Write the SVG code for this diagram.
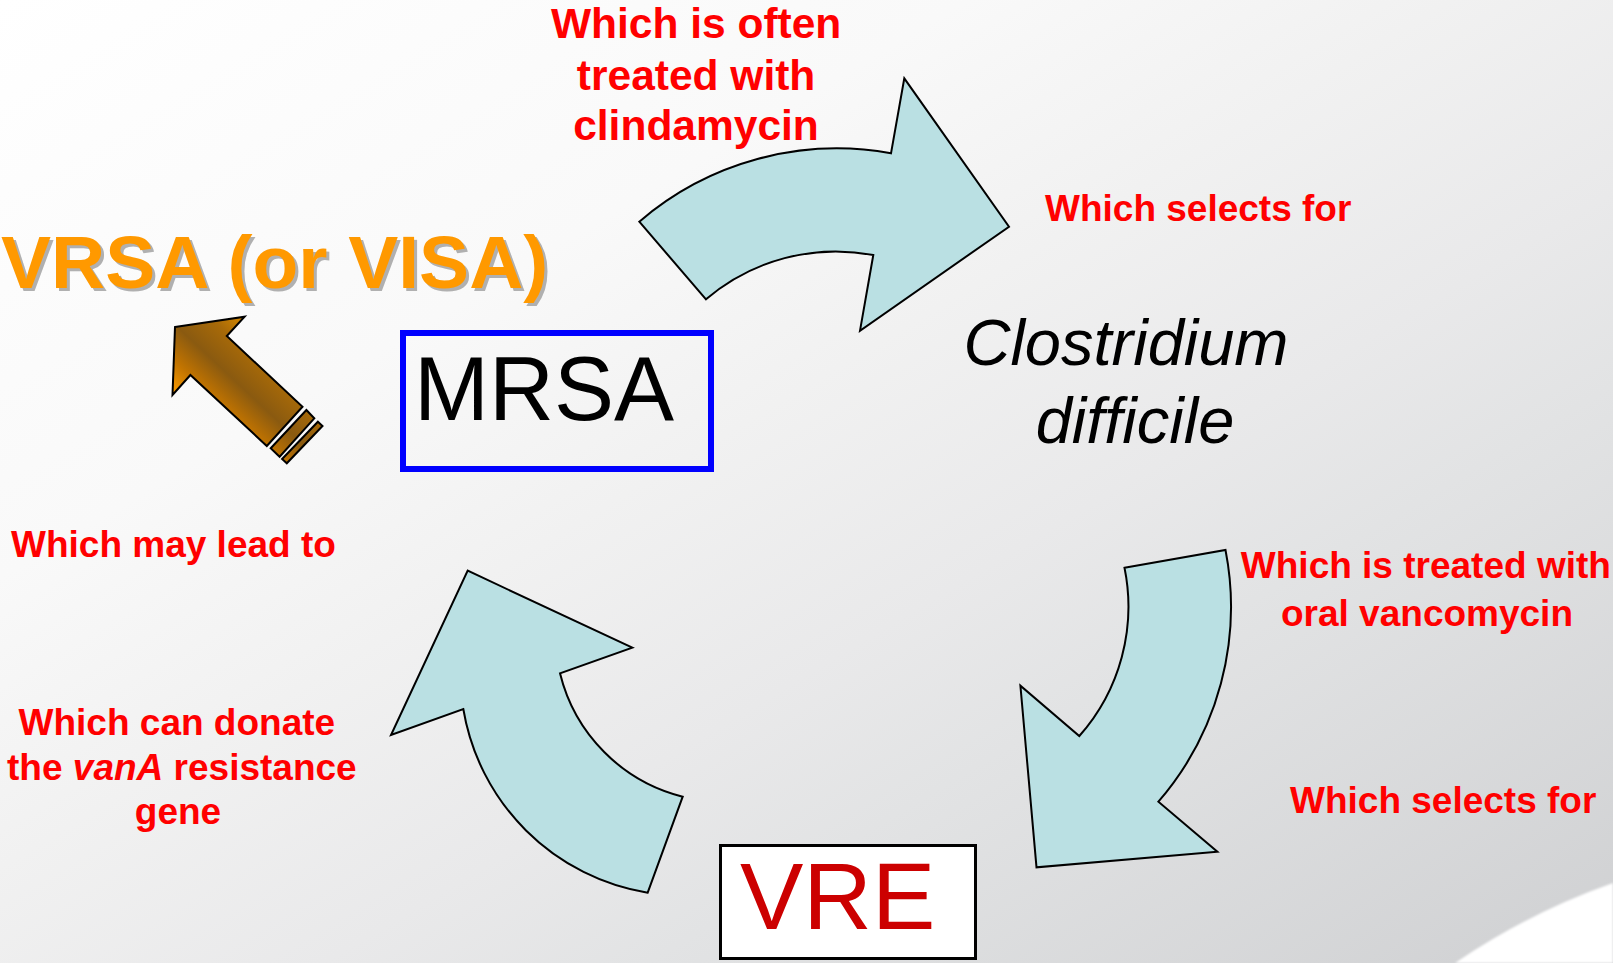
<svg xmlns="http://www.w3.org/2000/svg" width="1613" height="963" viewBox="0 0 1613 963">
  <defs>
    <linearGradient id="bg" gradientUnits="userSpaceOnUse" x1="0" y1="0" x2="848" y2="1420">
      <stop offset="0" stop-color="#ffffff"/>
      <stop offset="0.3" stop-color="#f9f9f9"/>
      <stop offset="0.45" stop-color="#f1f1f1"/>
      <stop offset="0.6" stop-color="#e9e9ea"/>
      <stop offset="0.7" stop-color="#e2e3e4"/>
      <stop offset="1" stop-color="#cfd0d2"/>
    </linearGradient>
    <linearGradient id="bronze" gradientUnits="userSpaceOnUse" x1="172" y1="395" x2="245" y2="317">
      <stop offset="0" stop-color="#ff9e00"/>
      <stop offset="0.25" stop-color="#c27400"/>
      <stop offset="0.5" stop-color="#8a5a10"/>
      <stop offset="0.78" stop-color="#a86a08"/>
      <stop offset="1" stop-color="#d88a00"/>
    </linearGradient>
    <filter id="soft" x="-5%" y="-5%" width="110%" height="110%">
      <feGaussianBlur stdDeviation="1.2"/>
    </filter>
  </defs>
  <style>
    .flow { fill: #bae0e3; stroke: #000; stroke-width: 2; stroke-linejoin: miter; }
    .bronze { fill: url(#bronze); stroke: #000; stroke-width: 2; stroke-linejoin: miter; }
    .note { font-family: "Liberation Sans", Arial, sans-serif; font-weight: bold; font-size: 37px; fill: #ff0000; }
    .note-lg { font-size: 42.5px; }
    .species { font-family: "Liberation Sans", Arial, sans-serif; font-style: italic; font-size: 65px; fill: #000; }
    .big { font-family: "Liberation Sans", Arial, sans-serif; }
  </style>

  <!-- slide background -->
  <rect x="0" y="0" width="1613" height="963" fill="url(#bg)"/>
  <path d="M1455 963 Q1530 912 1613 883 L1613 963 Z" fill="#ffffff" filter="url(#soft)"/>

  <!-- connectors: curved cycle arrows and the escape arrow -->
  <g id="connectors">
    <path class="flow" d="M639.3 221.7 A303.4 303.4 0 0 1 891 153.3 L904.3 78.3 L1009 226.7 L860 330.7 L873.3 255 A200 200 0 0 0 706 299.3 Z"/>
    <path class="flow" d="M1124.5 567.7 L1225.5 550 A297.9 297.9 0 0 1 1158.4 801.7 L1217.4 851.7 L1036.5 867.3 L1020.4 685.7 L1079.3 736 A195 195 0 0 0 1124.5 567.7 Z"/>
    <path class="flow" d="M647.7 892.7 L682.7 796.7 A168.6 168.6 0 0 1 560 673.3 L632.3 647.7 L467.7 570.7 L391 735 L463.3 709 A223.5 223.5 0 0 0 647.7 892.7 Z"/>
    <g id="escape-arrow">
      <path class="bronze" d="M175 327 L244.6 316.7 L226.8 336 L302.5 406.7 L266.8 446 L190.4 375 L172.5 395 Z"/>
      <path class="bronze" d="M306.4 410 L314.3 418.3 L279.6 456.7 L270.7 448.3 Z"/>
      <path class="bronze" d="M317.9 421.7 L322.5 426 L286.8 463.3 L282.1 459 Z"/>
    </g>
  </g>

  <!-- nodes -->
  <g id="node-mrsa">
    <rect x="403" y="333" width="308" height="136" fill="none" stroke="#0000ff" stroke-width="6"/>
    <text class="big" x="414" y="420" font-size="90" fill="#000">MRSA</text>
  </g>

  <g id="node-cdiff">
    <text class="species" x="1126" y="365" text-anchor="middle">Clostridium</text>
    <text class="species" x="1135" y="443" text-anchor="middle">difficile</text>
  </g>

  <g id="node-vre">
    <rect x="720.5" y="845.5" width="255" height="113" fill="#ffffff" stroke="#000" stroke-width="3"/>
    <text class="big" x="740" y="929" font-size="95" fill="#cc0000">VRE</text>
  </g>

  <g id="node-vrsa">
    <text class="big" x="4" y="291" font-size="75" font-weight="bold" fill="#b0b0b0">VRSA (or VISA)</text>
    <text class="big" x="1" y="288" font-size="75" font-weight="bold" fill="#ff9900">VRSA (or VISA)</text>
  </g>

  <!-- step labels -->
  <g id="labels">
    <text class="note note-lg" text-anchor="middle">
      <tspan x="702" y="38">Which is often</tspan>
      <tspan x="702" y="89.5">treated with</tspan>
      <tspan x="696" y="140">clindamycin</tspan>
    </text>
    <text class="note" x="1045" y="221">Which selects for</text>
    <text class="note" text-anchor="middle">
      <tspan x="1431" y="578">Which is treated with</tspan>
      <tspan x="1427" y="626">oral vancomycin</tspan>
    </text>
    <text class="note" x="1290" y="813">Which selects for</text>
    <text class="note" text-anchor="middle">
      <tspan x="182" y="735">Which can donate</tspan>
      <tspan x="187" y="780">the <tspan font-style="italic">vanA</tspan> resistance</tspan>
      <tspan x="178" y="824">gene</tspan>
    </text>
    <text class="note" x="11" y="557">Which may lead to</text>
  </g>
</svg>
